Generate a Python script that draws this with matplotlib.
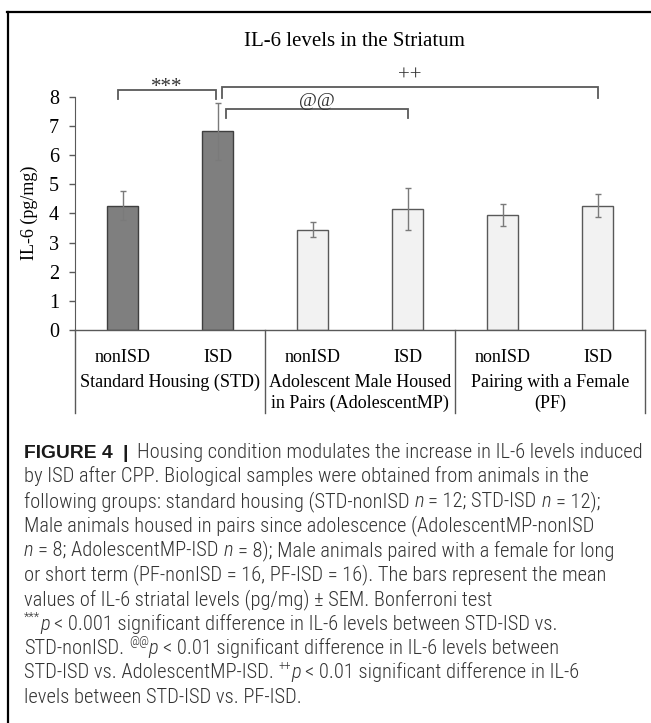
import numpy as np
import matplotlib
matplotlib.use('Agg')
import matplotlib.pyplot as plt
import matplotlib.transforms as mtransforms
from matplotlib import font_manager
from matplotlib.lines import Line2D

# data
conds = ['nonISD', 'ISD', 'nonISD', 'ISD', 'nonISD', 'ISD']
groups = ['Standard Housing (STD)',
          'Adolescent Male Housed\nin Pairs (AdolescentMP)',
          'Pairing with a Female\n(PF)']
il6 = [4.27, 6.82, 3.44, 4.16, 3.96, 4.27]
sem = [0.50, 0.97, 0.26, 0.71, 0.38, 0.40]
yticks = [0, 1, 2, 3, 4, 5, 6, 7, 8]
# significance brackets: (from bar, to bar, label)
sig_pairs = [(0, 1, '***'), (1, 5, '++'), (1, 3, '@@')]

# caption runs: r = regular, b = bold, i = italic, s = superscript
caption = [
    [('FIGURE 4', 'b'), ('  |', 'b'), ('  Housing condition modulates the increase in IL-6 levels induced', 'r')],
    [('by ISD after CPP. Biological samples were obtained from animals in the', 'r')],
    [('following groups: standard housing (STD-nonISD ', 'r'), ('n', 'i'), (' = 12; STD-ISD ', 'r'),
     ('n', 'i'), (' = 12);', 'r')],
    [('Male animals housed in pairs since adolescence (AdolescentMP-nonISD', 'r')],
    [('n', 'i'), (' = 8; AdolescentMP-ISD ', 'r'), ('n', 'i'),
     (' = 8); Male animals paired with a female for long', 'r')],
    [('or short term (PF-nonISD = 16, PF-ISD = 16). The bars represent the mean', 'r')],
    [('values of IL-6 striatal levels (pg/mg) \u00b1 SEM. Bonferroni test', 'r')],
    [('***', 's'), ('p', 'i'), (' < 0.001 significant difference in IL-6 levels between STD-ISD vs.', 'r')],
    [('STD-nonISD. ', 'r'), ('@@', 's'), ('p', 'i'),
     (' < 0.01 significant difference in IL-6 levels between', 'r')],
    [('STD-ISD vs. AdolescentMP-ISD. ', 'r'), ('++', 's'), ('p', 'i'),
     (' < 0.01 significant difference in IL-6', 'r')],
    [('levels between STD-ISD vs. PF-ISD.', 'r')],
]

W, H = 651, 723
def fx(px):
    return px / W
def fy(px):
    return 1 - px / H

# pick a narrow sans for the caption if there is one
names = set(f.name for f in font_manager.fontManager.ttflist)
capfam = 'Liberation Sans'
for cand in ['Roboto Condensed', 'Liberation Sans Narrow', 'Open Sans Condensed', 'Noto Sans Condensed']:
    if cand in names:
        capfam = cand
        break

serif = 'Liberation Serif'
fig = plt.figure(figsize=(W / 100, H / 100), dpi=100)
ax = fig.add_axes([fx(75), fy(330), fx(645) - fx(75), fy(97) - fy(330)])

x = np.arange(len(conds))
colors = ['#7f7f7f'] * 2 + ['#f2f2f2'] * 4
edges = ['#3f3f3f'] * 2 + ['#595959'] * 4
ax.bar(x, il6, width=0.32, color=colors, edgecolor=edges, linewidth=1.0, zorder=2)
ax.errorbar(x, il6, yerr=sem, fmt='none', ecolor='#7a7a7a', elinewidth=1.0,
            capsize=2.5, capthick=1.0, zorder=3)

ax.set_xlim(-0.5, 5.5)
ax.set_ylim(0, 8)
ax.set_yticks(yticks)
ax.set_yticklabels([str(t) for t in yticks], fontfamily=serif, fontsize=14.5)
ax.tick_params(axis='y', length=4.5, width=1, color='#595959', pad=7)
ax.set_xticks([])
for s in ['top', 'right', 'bottom']:
    ax.spines[s].set_visible(False)
ax.spines['left'].set_color('#595959')
ax.axhline(0, color='#595959', lw=1.0, zorder=4, clip_on=False)

# category box below the axis
bt = mtransforms.blended_transform_factory(ax.transData, fig.transFigure)
for xs in [-0.5, 1.5, 3.5, 5.5]:
    ax.add_line(Line2D([xs, xs], [fy(330), fy(413)], transform=bt, color='#595959',
                       lw=1.0, clip_on=False))
for i, c in enumerate(conds):
    ax.text(x[i], fy(357), c, transform=bt, ha='center', va='center',
            fontfamily=serif, fontsize=13)
for g, name in enumerate(groups):
    ax.text(2 * g + 0.5, fy(374), name, transform=bt, ha='center', va='top',
            fontfamily=serif, fontsize=13, linespacing=1.3)

# significance brackets
offs = {'***': (-0.05, -0.02, 7.93, 8.24, 8.16, 15),
        '++': (0.05, 0.0, 7.97, 8.34, 8.56, 15),
        '@@': (0.09, 0.0, 7.28, 7.59, 7.70, 14)}
for a, b, lab in sig_pairs:
    o0, o1, yb, yt, ylab, fs = offs[lab]
    xa, xb = x[a] + o0, x[b] + o1
    ax.plot([xa, xa, xb, xb], [yb, yt, yt, yb], color='#595959', lw=1.3,
            clip_on=False, solid_joinstyle='miter')
    ax.text((xa + xb) / 2, ylab, lab, ha='center', va='baseline', fontfamily=serif,
            fontsize=fs, color='#333333')

fig.text(fx(354), fy(41), 'IL-6 levels in the Striatum', ha='center', va='center',
         fontfamily=serif, fontsize=15)
fig.text(fx(29), fy(213), 'IL-6 (pg/mg)', rotation=90, ha='center', va='center',
         fontfamily=serif, fontsize=13)

# outer frame
fig.add_artist(Line2D([fx(7), 1.0], [fy(12), fy(12)], color='black', lw=1.6))
fig.add_artist(Line2D([fx(8), fx(8)], [fy(12), 0.0], color='black', lw=1.6))

# caption, laid out run by run
r = fig.canvas.get_renderer()

def run_kw(kind, fs, bf):
    kw = dict(fontfamily=capfam, fontsize=fs, color='#333333', va='baseline',
              fontweight='light')
    if kind == 'b':
        kw.update(fontfamily='Liberation Sans', fontweight='bold', color='#1a1a1a',
                  fontsize=fs * bf)
    elif kind == 'i':
        kw.update(fontstyle='italic')
    elif kind == 's':
        kw.update(fontsize=fs * 0.62)
    return kw

def text_w(s, kw):
    t = fig.text(0, 0, s, **kw)
    w = t.get_window_extent(r).width
    t.remove()
    return w

def layout(fs, bf, draw):
    kw0 = run_kw('r', fs, bf)
    sp = text_w('a a', kw0) - text_w('aa', kw0)
    ends = []
    for k, runs in enumerate(caption):
        xc = 24
        base = 458 + 24.5 * k
        for s, kind in runs:
            kw = run_kw(kind, fs, bf)
            lead = len(s) - len(s.lstrip(' '))
            trail = len(s) - len(s.rstrip(' '))
            core = s.strip(' ')
            xc += lead * sp
            yy = base - (fs * 100 / 72) * 0.42 if kind == 's' else base
            if draw:
                t = fig.text(fx(xc), fy(yy), core, **kw)
                w = t.get_window_extent(r).width
            else:
                w = text_w(core, kw)
            xc += w + trail * sp
        ends.append(xc)
    return ends

fs0 = 14
bf = 1.08
e = layout(fs0, bf, False)
# size the regular text from the second line, then let the bold heading fit line one
fs = fs0 * (589 - 24) / (e[1] - 24)
for _ in range(12):
    e = layout(fs, bf, False)
    if e[0] <= 643:
        break
    bf -= 0.02
layout(fs, bf, True)

fig.savefig('out.png', dpi=100)
